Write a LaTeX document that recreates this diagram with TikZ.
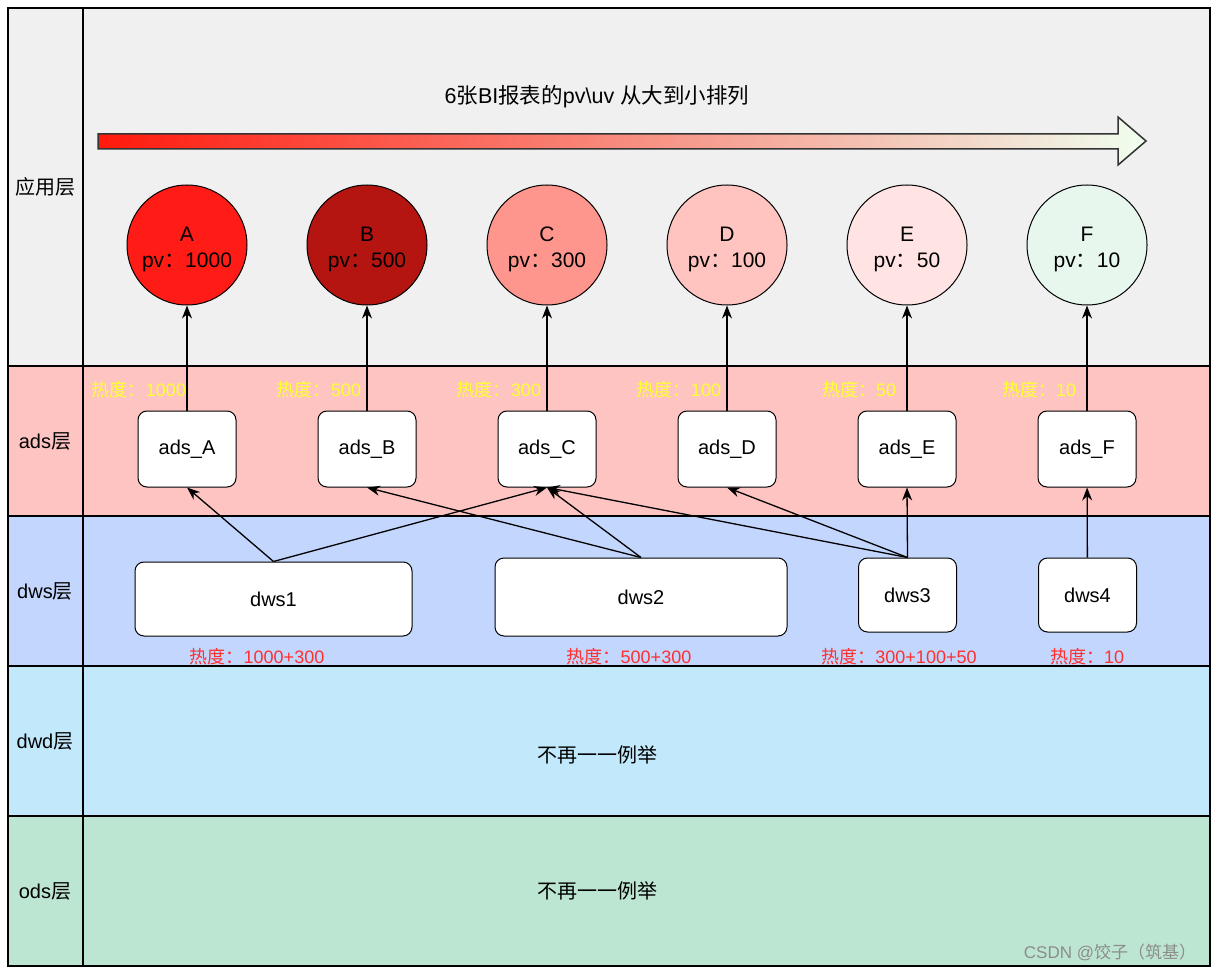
\documentclass[tikz,border=0pt]{standalone}
\usepackage{fontspec}
\setmainfont{Liberation Sans}
\newfontfamily\cjk{Noto Sans CJK SC}
\usetikzlibrary{arrows.meta}
\definecolor{appgray}{HTML}{F0F0F0}
\definecolor{adspink}{HTML}{FEC4C2}
\definecolor{dwsblue}{HTML}{C3D6FD}
\definecolor{dwdblue}{HTML}{C2E8FB}
\definecolor{odsgreen}{HTML}{BDE6D2}
\definecolor{heatred}{HTML}{FF3030}
\definecolor{heatyellow}{HTML}{FFFF33}
\newcommand{\upstrut}{\rule{0pt}{24pt}}
\tikzset{
  layerlab/.style={font=\fontsize{20}{24}\selectfont},
  bubble/.style={circle, draw, line width=1pt, minimum size=120pt, inner sep=0pt, align=center, font=\fontsize{21}{26}\selectfont},
  adsbox/.style={draw, fill=white, line width=1pt, rounded corners=9pt, minimum width=98pt, minimum height=76pt, font=\fontsize{20}{24}\selectfont},
  heat/.style={text=heatyellow, font=\fontsize{18}{22}\selectfont},
  hot/.style={text=heatred, font=\fontsize{18}{22}\selectfont},
  link/.style={line width=1.3pt, -{Stealth[length=13pt,width=10pt]}}
}
\begin{document}
\begin{tikzpicture}[x=1pt,y=-1pt]
  \useasboundingbox (0,0) rectangle (1214,973);
  % the five layers
  \draw [fill=appgray, line width=1.2pt] (8,8) rectangle (1210,366);
  \draw [fill=adspink, line width=1.2pt] (8,366) rectangle (1210,516);
  \draw [fill=dwsblue, line width=1.2pt] (8,516) rectangle (1210,666);
  \draw [fill=dwdblue, line width=1.2pt] (8,666) rectangle (1210,816);
  \draw [fill=odsgreen, line width=1.2pt] (8,816) rectangle (1210,966);
  \draw [line width=1.2pt] (83,8) -- (83,966);
  \node [layerlab] (lapp) at (45,187) {\cjk 应用层};
  \node [layerlab] (lads) at (45,441) {ads{\cjk 层}};
  \node [layerlab] (ldws) at (45,591) {dws{\cjk 层}};
  \node [layerlab] (ldwd) at (45,741) {dwd{\cjk 层}};
  \node [layerlab] (lods) at (45,891) {ods{\cjk 层}};

  % ranking arrow
  \node [layerlab, font=\fontsize{21.5}{26}\selectfont] (title) at (597,97) {6{\cjk 张}BI{\cjk 报表的}pv\textbackslash uv {\cjk 从大到小排列}};
  \path [draw=black!80, line width=1.5pt, left color=red!90!orange!95, right color=green!6]
    (98,134) -- (1118,134) -- (1118,117) -- (1146,141) -- (1118,165) -- (1118,149) -- (98,149) -- cycle;

  % reports
  \node [bubble, fill={rgb,255:red,255;green,28;blue,22}] (cA) at (187,245) {\upstrut A\\pv{\cjk ：}1000};
  \node [bubble, fill={rgb,255:red,180;green,21;blue,16}] (cB) at (367,245) {\upstrut B\\pv{\cjk ：}500};
  \node [bubble, fill={rgb,255:red,255;green,150;blue,142}] (cC) at (547,245) {\upstrut C\\pv{\cjk ：}300};
  \node [bubble, fill={rgb,255:red,255;green,196;blue,192}] (cD) at (727,245) {\upstrut D\\pv{\cjk ：}100};
  \node [bubble, fill={rgb,255:red,255;green,228;blue,227}] (cE) at (907,245) {\upstrut E\\pv{\cjk ：}50};
  \node [bubble, fill={rgb,255:red,232;green,247;blue,238}] (cF) at (1087,245) {\upstrut F\\pv{\cjk ：}10};

  % ads tables
  \node [heat] (hA) at (139,390) {{\cjk 热度：}1000};
  \node [heat] (hB) at (319,390) {{\cjk 热度：}500};
  \node [heat] (hC) at (499,390) {{\cjk 热度：}300};
  \node [heat] (hD) at (679,390) {{\cjk 热度：}100};
  \node [heat] (hE) at (859,390) {{\cjk 热度：}50};
  \node [heat] (hF) at (1039,390) {{\cjk 热度：}10};
  \node [adsbox] (adsA) at (187,449) {ads\_A};
  \node [adsbox] (adsB) at (367,449) {ads\_B};
  \node [adsbox] (adsC) at (547,449) {ads\_C};
  \node [adsbox] (adsD) at (727,449) {ads\_D};
  \node [adsbox] (adsE) at (907,449) {ads\_E};
  \node [adsbox] (adsF) at (1087,449) {ads\_F};
  \draw [link] (adsA) -- (cA);
  \draw [link] (adsB) -- (cB);
  \draw [link] (adsC) -- (cC);
  \draw [link] (adsD) -- (cD);
  \draw [link] (adsE) -- (cE);
  \draw [link] (adsF) -- (cF);

  % dws tables
  \node [adsbox, minimum width=277pt, minimum height=74pt] (dws1) at (273.5,599) {dws1};
  \node [adsbox, minimum width=292pt, minimum height=78pt] (dws2) at (641,597) {dws2};
  \node [adsbox, minimum height=74pt] (dws3) at (907.5,595) {dws3};
  \node [adsbox, minimum height=74pt] (dws4) at (1087.5,595) {dws4};
  \node [hot] (h1) at (257,657) {{\cjk 热度：}1000+300};
  \node [hot] (h2) at (629,657) {{\cjk 热度：}500+300};
  \node [hot] (h3) at (899,657) {{\cjk 热度：}300+100+50};
  \node [hot] (h4) at (1087,657) {{\cjk 热度：}10};
  \draw [link] (dws1.north) -- (adsA.south);
  \draw [link] (dws1.north) -- (adsC.south);
  \draw [link] (dws2.north) -- (adsB.south);
  \draw [link] (dws2.north) -- (adsC.south);
  \draw [link] (dws3.north) -- (adsC.south);
  \draw [link] (dws3.north) -- (adsD.south);
  \draw [link] (dws3.north) -- (adsE.south);
  \draw [link] (dws4) -- (adsF);

  % lower layers
  \node [layerlab] (dwdnote) at (597,755) {\cjk 不再一一例举};
  \node [layerlab] (odsnote) at (597,891) {\cjk 不再一一例举};
  \node [text=black!45, font=\fontsize{17}{20}\selectfont] (mark) at (1110,952) {CSDN @{\cjk 饺子（筑基）}};
\end{tikzpicture}
\end{document}
